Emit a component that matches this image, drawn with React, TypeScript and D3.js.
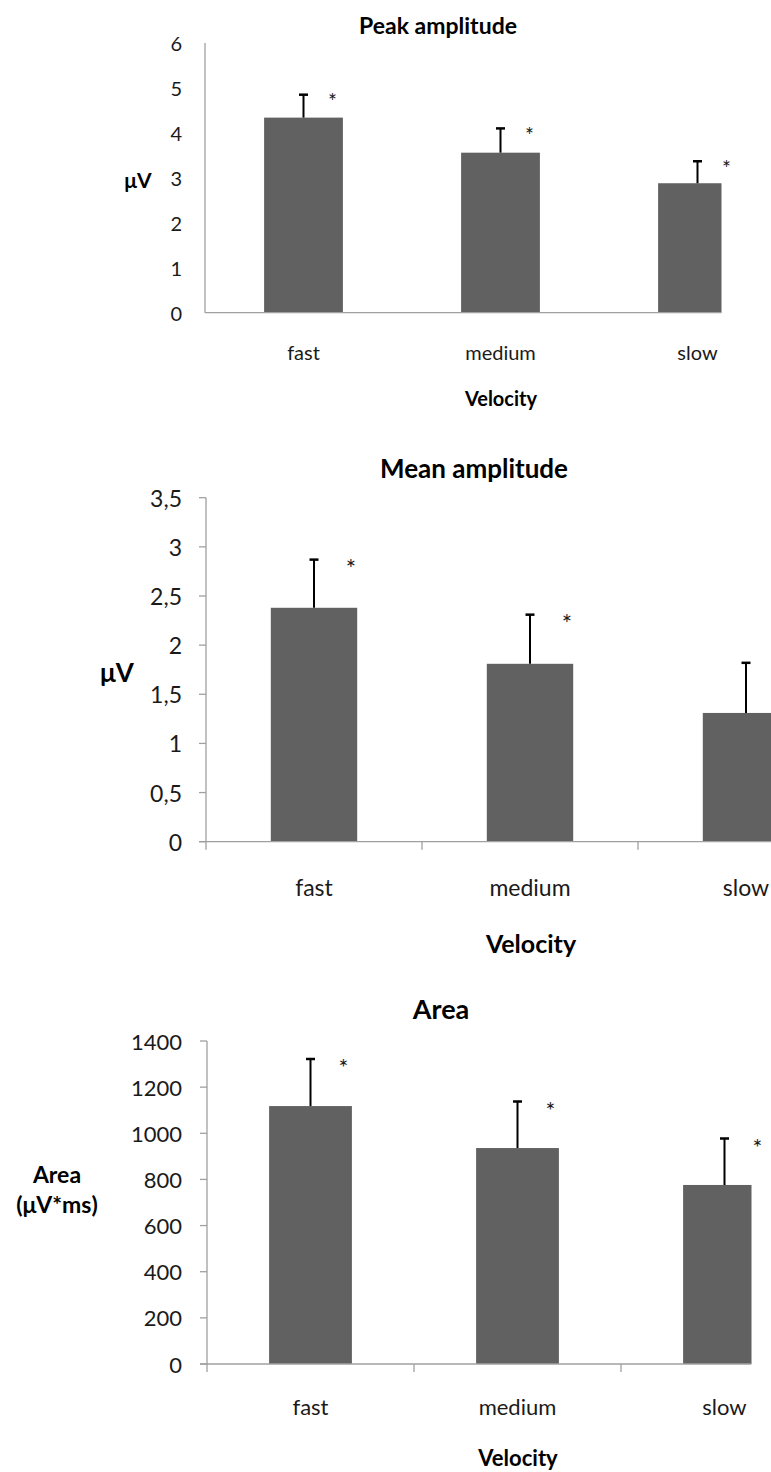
import React, { useEffect, useRef } from "react";
import * as d3 from "d3";

// values (mean and +SD)
const categories = ["fast", "medium", "slow"];
const peakMean = [4.34, 3.56, 2.88];
const peakSD = [0.51, 0.54, 0.49];
const peakTicks = [0, 1, 2, 3, 4, 5, 6];
const meanAmpMean = [2.38, 1.81, 1.31];
const meanAmpSD = [0.49, 0.5, 0.51];
const meanAmpTicks = [0, 0.5, 1, 1.5, 2, 2.5, 3, 3.5];
const areaMean = [1118, 936, 776];
const areaSD = [204, 202, 201];
const areaTicks = [0, 200, 400, 600, 800, 1000, 1200, 1400];

const FONT = "Lato, 'Open Sans', sans-serif";
const BAR = "#616161";
const AXIS = "#a0a0a0";
const TXT = "#1a1a1a";

const panels = [
  {
    id: "p1", title: "Peak amplitude", ylab: ["μV"], mean: peakMean, sd: peakSD, ticks: peakTicks,
    fmt: (d) => String(d),
    x0: 205, band: 197, clipR: 721.5, yBase: 312.7, yTop: 43,
    tickMarks: false, fs: 20, titleFs: 23, labFs: 21,
    titleX: 438, titleY: 25, ylabX: 138, ylabY: 179, catY: 352, velX: 501, velY: 398,
    starDx: 29, starDy: 3.5,
  },
  {
    id: "p2", title: "Mean amplitude", ylab: ["μV"], mean: meanAmpMean, sd: meanAmpSD, ticks: meanAmpTicks,
    fmt: (d) => String(d).replace(".", ","),
    x0: 206, band: 216, clipR: 771, yBase: 841.7, yTop: 497.7,
    tickMarks: true, fs: 23, titleFs: 26, labFs: 26,
    titleX: 474, titleY: 468, ylabX: 117, ylabY: 672, catY: 887, velX: 531, velY: 943,
    starDx: 37, starDy: 6,
  },
  {
    id: "p3", title: "Area", ylab: ["Area", "(μV*ms)"], mean: areaMean, sd: areaSD, ticks: areaTicks,
    fmt: (d) => String(d),
    x0: 207, band: 207, clipR: 751.5, yBase: 1364, yTop: 1041,
    tickMarks: true, fs: 22, titleFs: 27, labFs: 23,
    titleX: 441, titleY: 1008, ylabX: 57, ylabY: 1174, catY: 1406, velX: 518, velY: 1457,
    starDx: 33, starDy: 5,
  },
];

function Panel({ p }) {
  const ref = useRef(null);
  useEffect(() => {
    const g = d3.select(ref.current);
    g.selectAll("*").remove();

    const x = d3.scaleBand().domain(categories)
      .range([p.x0, p.x0 + 3 * p.band]).paddingInner(0.6).paddingOuter(0.3);
    const y = d3.scaleLinear().domain([0, d3.max(p.ticks)]).range([p.yBase, p.yTop]);

    g.append("clipPath").attr("id", "clip_" + p.id)
      .append("rect").attr("x", 0).attr("y", p.yTop - 80).attr("width", p.clipR).attr("height", 600);

    const plot = g.append("g").attr("clip-path", `url(#clip_${p.id})`);

    // bars
    plot.selectAll(".bar").data(p.mean).join("rect").attr("class", "bar")
      .attr("x", (d, i) => x(categories[i]))
      .attr("width", x.bandwidth())
      .attr("y", (d) => y(d))
      .attr("height", (d) => y(0) - y(d))
      .attr("fill", BAR);

    // error bars (upper only)
    const cx = (i) => x(categories[i]) + x.bandwidth() / 2;
    plot.selectAll(".err").data(p.mean).join("line").attr("class", "err")
      .attr("x1", (d, i) => cx(i)).attr("x2", (d, i) => cx(i))
      .attr("y1", (d) => y(d)).attr("y2", (d, i) => y(d + p.sd[i]))
      .attr("stroke", "#000").attr("stroke-width", 2);
    plot.selectAll(".cap").data(p.mean).join("line").attr("class", "cap")
      .attr("x1", (d, i) => cx(i) - 4.5).attr("x2", (d, i) => cx(i) + 4.5)
      .attr("y1", (d, i) => y(d + p.sd[i])).attr("y2", (d, i) => y(d + p.sd[i]))
      .attr("stroke", "#000").attr("stroke-width", 2.5);

    // asterisks (not clipped, they sit just right of the cropped plot)
    g.selectAll(".star").data(p.mean).join("text").attr("class", "star")
      .attr("x", (d, i) => cx(i) + p.starDx)
      .attr("y", (d, i) => y(d + p.sd[i]) + p.starDy + p.fs * 0.55)
      .attr("text-anchor", "middle")
      .style("font-family", FONT).style("font-size", p.fs * 1.05 + "px").attr("fill", TXT)
      .text("*");

    // axes
    const xEnd = Math.min(p.clipR, p.x0 + 3 * p.band);
    plot.append("line")
      .attr("x1", p.tickMarks ? p.x0 - 7 : p.x0).attr("x2", xEnd)
      .attr("y1", y(0)).attr("y2", y(0))
      .attr("stroke", AXIS).attr("stroke-width", 1.3);
    g.append("line")
      .attr("x1", p.x0).attr("x2", p.x0).attr("y1", y(d3.max(p.ticks))).attr("y2", y(0))
      .attr("stroke", AXIS).attr("stroke-width", 1.3);
    if (p.tickMarks) {
      g.selectAll(".ytick").data(p.ticks).join("line").attr("class", "ytick")
        .attr("x1", p.x0 - 7).attr("x2", p.x0).attr("y1", (d) => y(d)).attr("y2", (d) => y(d))
        .attr("stroke", AXIS).attr("stroke-width", 1.3);
      plot.selectAll(".xtick").data(d3.range(4)).join("line").attr("class", "xtick")
        .attr("x1", (d) => p.x0 + d * p.band).attr("x2", (d) => p.x0 + d * p.band)
        .attr("y1", y(0)).attr("y2", y(0) + 8)
        .attr("stroke", AXIS).attr("stroke-width", 1.3);
    }

    // tick labels
    g.selectAll(".ylabel").data(p.ticks).join("text").attr("class", "ylabel")
      .attr("x", 182).attr("y", (d) => y(d))
      .attr("text-anchor", "end").attr("dominant-baseline", "central")
      .style("font-family", FONT).style("font-size", p.fs + "px").attr("fill", TXT)
      .text(p.fmt);

    g.selectAll(".xlabel").data(categories).join("text").attr("class", "xlabel")
      .attr("x", (d) => x(d) + x.bandwidth() / 2).attr("y", p.catY)
      .attr("text-anchor", "middle").attr("dominant-baseline", "central")
      .style("font-family", FONT).style("font-size", p.fs + "px").attr("fill", TXT)
      .text((d) => d);

    // titles
    g.append("text").attr("x", p.titleX).attr("y", p.titleY)
      .attr("text-anchor", "middle").attr("dominant-baseline", "central")
      .style("font-family", FONT).style("font-size", p.titleFs + "px").style("font-weight", "bold")
      .attr("fill", "#000").text(p.title);
    g.append("text").attr("x", p.velX).attr("y", p.velY)
      .attr("text-anchor", "middle").attr("dominant-baseline", "central")
      .style("font-family", FONT).style("font-size", p.labFs - 1 + "px").style("font-weight", "bold")
      .attr("fill", "#000").text("Velocity");
    g.selectAll(".ylab").data(p.ylab).join("text").attr("class", "ylab")
      .attr("x", p.ylabX).attr("y", (d, i) => p.ylabY + i * (p.labFs * 1.3))
      .attr("text-anchor", "middle").attr("dominant-baseline", "central")
      .style("font-family", FONT).style("font-size", p.labFs + "px").style("font-weight", "bold")
      .attr("fill", "#000").text((d) => d);
  }, [p]);
  return <g ref={ref}></g>;
}

export default function App() {
  return (
    <div style={{ position: "absolute", left: 0, top: 0 }}>
      <svg width={771} height={1472} style={{ display: "block", background: "#fff" }}>
        {panels.map((p) => (
          <Panel key={p.id} p={p} />
        ))}
      </svg>
    </div>
  );
}
